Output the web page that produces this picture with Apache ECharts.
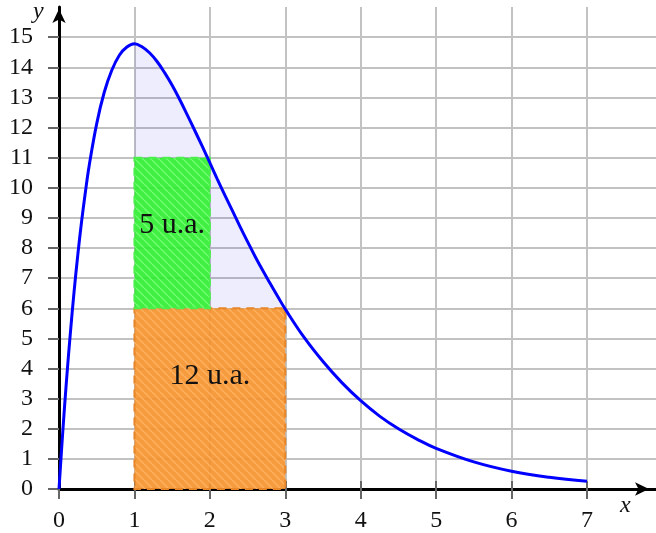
<!DOCTYPE html>
<html>
<head>
<meta charset="utf-8">
<script src="https://cdn.jsdelivr.net/npm/echarts@6/dist/echarts.min.js"></script>
<style>
  html, body { margin: 0; padding: 0; background: #fff; }
  #chart { width: 656px; height: 533px; }
</style>
</head>
<body>
<div id="chart"></div>
<script>
// curve
var curveX = [0, 0.05, 0.1, 0.15, 0.2, 0.25, 0.3, 0.35, 0.4, 0.5, 0.6, 0.7, 0.8, 0.9, 1.0,
              1.1, 1.2, 1.3, 1.4, 1.5, 1.6, 1.7, 1.8, 1.9, 2.0, 2.1, 2.2, 2.3, 2.4, 2.5,
              2.6, 2.7, 2.8, 2.9, 3.0, 3.25, 3.5, 3.75, 4.0, 4.25, 4.5, 4.75, 5.0, 5.5, 6.0, 6.5, 7.0];
var curveY = [0, 1.9, 3.62, 5.16, 6.55, 7.79, 8.89, 9.86, 10.73, 12.13, 13.17, 13.9, 14.4, 14.67, 14.78,
              14.68, 14.48, 14.19, 13.82, 13.4, 12.93, 12.42, 11.9, 11.37, 10.83, 10.28, 9.75, 9.23, 8.71, 8.21,
              7.72, 7.26, 6.82, 6.39, 5.97, 5.03, 4.23, 3.53, 2.93, 2.42, 2.0, 1.65, 1.35, 0.9, 0.59, 0.39, 0.26];

// shaded interval
var shadeFrom = 1, shadeTo = 3;

// rectangles: [x0, x1, y0, y1]
var rectOrange = [1, 3, 0, 6];
var rectGreen = [1, 2, 6, 11];

// annotations: [x, y, text]
var notes = [[1.5, 8.76, '5 u.a.'], [2.0, 3.76, '12 u.a.']];

var xTicks = [0, 1, 2, 3, 4, 5, 6, 7];
var yTicks = [0, 1, 2, 3, 4, 5, 6, 7, 8, 9, 10, 11, 12, 13, 14, 15];

var curveData = curveX.map(function (x, i) { return [x, curveY[i]]; });
var shadeData = curveData.filter(function (p) { return p[0] >= shadeFrom && p[0] <= shadeTo; });

function hatch(base, stripe) {
  var c = document.createElement('canvas');
  c.width = 8; c.height = 8;
  var g = c.getContext('2d');
  g.fillStyle = base;
  g.fillRect(0, 0, 8, 8);
  g.strokeStyle = stripe;
  g.lineWidth = 1.5;
  g.beginPath();
  for (var k = -8; k <= 8; k += 8) {
    g.moveTo(k, 0);
    g.lineTo(k + 8, 8);
  }
  g.stroke();
  return { image: c, repeat: 'repeat' };
}

var fillOrange = hatch('rgba(246,146,42,0.9)', 'rgba(255,178,100,0.9)');
var fillGreen = hatch('rgba(45,238,45,0.9)', 'rgba(115,255,115,0.9)');

var font = 'Liberation Serif';
var W = 597, H = 483;

var myChart = echarts.init(document.getElementById('chart'));
var option = {
  animation: false,
  grid: { left: 59, right: 0, top: 7, bottom: 43 },
  xAxis: [{
    type: 'value', min: 0, max: 7.915, interval: 1,
    axisLine: { show: true, onZero: false, lineStyle: { color: '#000', width: 3 },
                symbol: ['none', 'arrow'], symbolSize: [10, 14], symbolOffset: [0, -7] },
    axisTick: { show: true, customValues: xTicks, length: 10, lineStyle: { color: '#666', width: 2 } },
    axisLabel: { customValues: xTicks, margin: 20, color: '#111', fontFamily: font, fontSize: 24 },
    splitLine: { show: true, lineStyle: { color: '#c2c2c2', width: 2 } }
  }, {
    type: 'value', min: 0, max: 7.915, position: 'top', offset: -H,
    axisLine: { show: false },
    axisTick: { show: true, customValues: [1, 2, 3, 4, 5, 6, 7], length: 9, lineStyle: { color: '#666', width: 2 } },
    axisLabel: { show: false },
    splitLine: { show: false }
  }],
  yAxis: [{
    type: 'value', min: 0, max: 16, interval: 1,
    axisLine: { show: true, onZero: false, lineStyle: { color: '#000', width: 3 },
                symbol: ['none', 'arrow'], symbolSize: [10, 14], symbolOffset: [0, -2] },
    axisTick: { show: true, customValues: yTicks, length: 11, lineStyle: { color: '#666', width: 2 } },
    axisLabel: { customValues: yTicks, margin: 26, color: '#111', fontFamily: font, fontSize: 24 },
    splitLine: { show: true, lineStyle: { color: '#c2c2c2', width: 2 } }
  }, {
    type: 'value', min: 0, max: 16, position: 'right', offset: -W,
    axisLine: { show: false },
    axisTick: { show: true, customValues: yTicks.slice(1), length: 9, lineStyle: { color: '#666', width: 2 } },
    axisLabel: { show: false },
    splitLine: { show: false }
  }],
  series: [{
    type: 'line',
    data: shadeData,
    smooth: 0.4,
    showSymbol: false,
    lineStyle: { width: 0 },
    areaStyle: { color: 'rgba(0,0,240,0.1)', origin: 0 },
    z: 1
  }, {
    type: 'custom',
    data: [rectOrange, rectGreen],
    renderItem: function (params, api) {
      var p0 = api.coord([api.value(0), api.value(3)]);
      var p1 = api.coord([api.value(1), api.value(2)]);
      var green = params.dataIndex === 1;
      return {
        type: 'rect',
        shape: { x: p0[0], y: p0[1], width: p1[0] - p0[0], height: p1[1] - p0[1] },
        style: {
          fill: green ? fillGreen : fillOrange,
          stroke: green ? '#4cf04c' : '#e8862a',
          lineWidth: 2,
          lineDash: [8, 6]
        }
      };
    },
    z: 2
  }, {
    type: 'line',
    data: curveData,
    smooth: 0.4,
    showSymbol: false,
    lineStyle: { color: '#0000ff', width: 3 },
    z: 3
  }, {
    type: 'custom',
    data: notes,
    renderItem: function (params, api) {
      var p = api.coord([api.value(0), api.value(1)]);
      return {
        type: 'text',
        x: p[0], y: p[1],
        style: {
          text: notes[params.dataIndex][2],
          fill: '#111',
          font: '30px "' + font + '"',
          align: 'center',
          verticalAlign: 'middle'
        }
      };
    },
    z: 4
  }],
  graphic: [{
    type: 'text', left: 33, top: 0,
    style: { text: 'y', font: 'italic 24px "' + font + '"', fill: '#111' }
  }, {
    type: 'text', left: 620, top: 494,
    style: { text: 'x', font: 'italic 24px "' + font + '"', fill: '#111' }
  }]
};
myChart.setOption(option);
</script>
</body>
</html>
